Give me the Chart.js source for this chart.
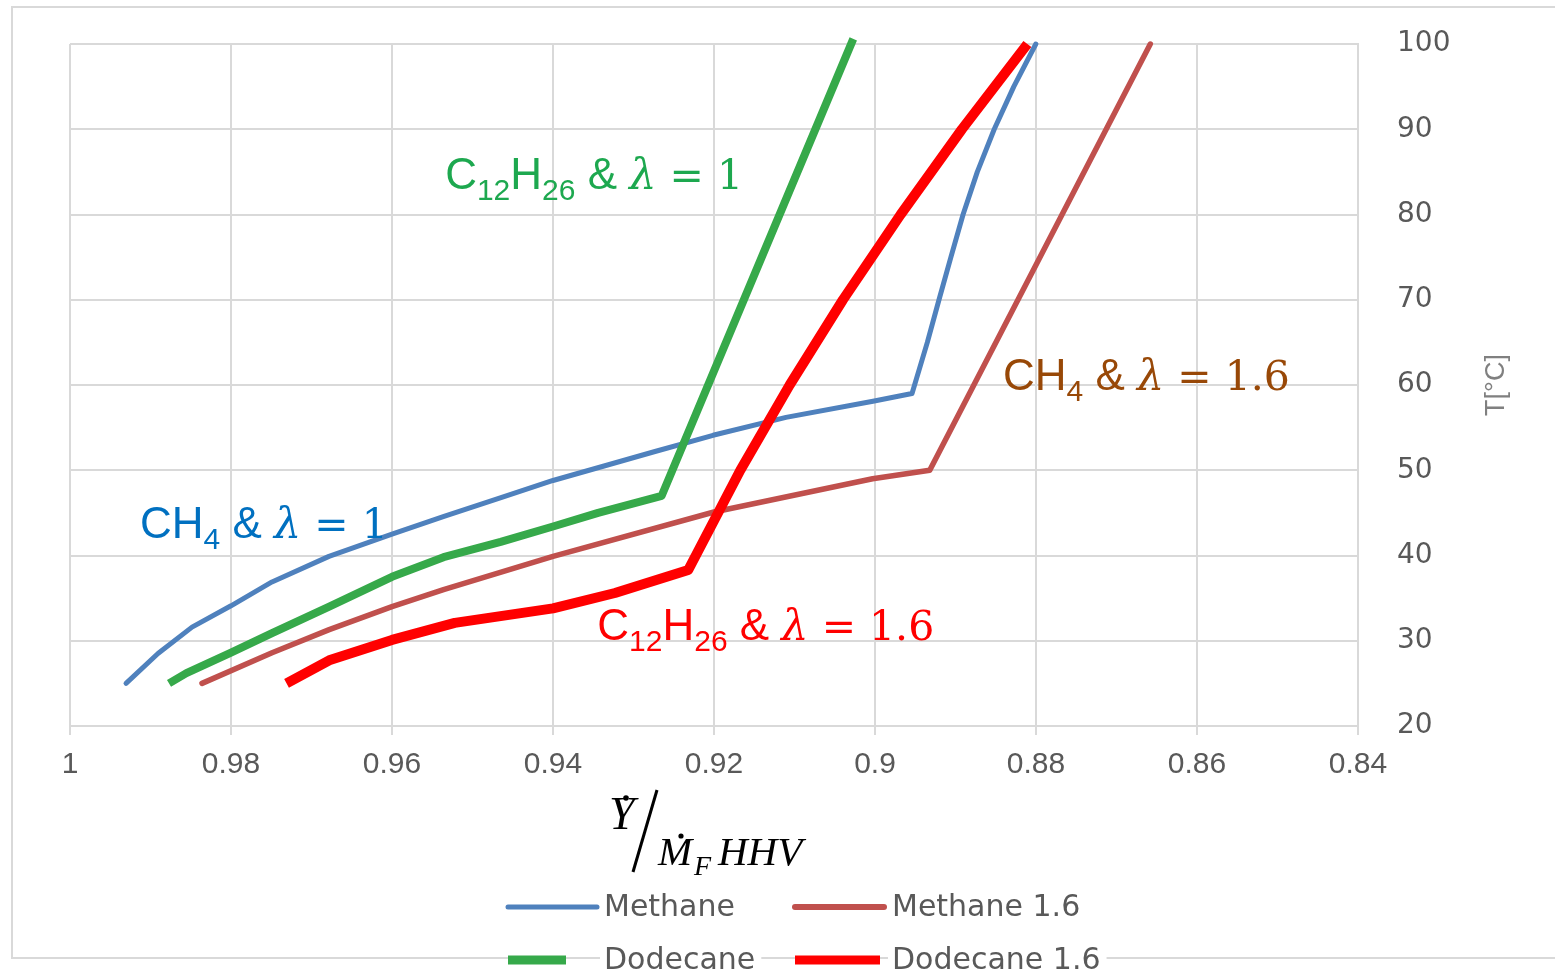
<!DOCTYPE html>
<html><head><meta charset="utf-8">
<script src="https://cdn.jsdelivr.net/npm/chart.js@4/dist/chart.umd.min.js"></script>
<style>html,body{margin:0;padding:0;background:#fff}canvas{display:block}</style>
</head><body>
<canvas id="c" width="1555" height="975"></canvas>
<script>
// ---------- data ----------
const xTicks = [1, 0.98, 0.96, 0.94, 0.92, 0.9, 0.88, 0.86, 0.84];
const yTicks = [20, 30, 40, 50, 60, 70, 80, 90, 100];
const seriesNames = ['Methane', 'Methane 1.6', 'Dodecane', 'Dodecane 1.6'];

const methaneX = [0.99304, 0.98907, 0.98484, 0.98, 0.97491, 0.96783, 0.96, 0.95354, 0.94646, 0.94, 0.93366, 0.92733, 0.92012, 0.91106, 0.90025, 0.8954, 0.8935, 0.89205, 0.89057, 0.88906, 0.88729, 0.88519, 0.88276, 0.88002];
const methaneT = [25, 28.5, 31.6, 34.1, 36.9, 39.9, 42.5, 44.6, 46.8, 48.8, 50.5, 52.2, 54.1, 56.2, 58.1, 59.0, 65, 70, 75, 80, 85, 90, 95, 100];

const methane16X = [0.9836, 0.9749, 0.9678, 0.96, 0.9536, 0.94, 0.92, 0.9003, 0.8932, 0.8658];
const methane16T = [25, 28.6, 31.3, 34, 36, 39.9, 45.1, 49.0, 50, 100];

const dodecaneX = [0.9877, 0.98554, 0.98, 0.9749, 0.9678, 0.96, 0.9536, 0.9465, 0.94, 0.9344, 0.9265, 0.9027];
const dodecaneT = [25, 26.2, 28.6, 30.9, 34.0, 37.5, 39.8, 41.6, 43.4, 45.0, 47.0, 100.6];

const dodecane16X = [0.9731, 0.9678, 0.96, 0.9522, 0.94, 0.9323, 0.9232, 0.91673, 0.9106, 0.90398, 0.89681, 0.8892, 0.88107];
const dodecane16T = [25, 27.7, 30.1, 32.1, 33.8, 35.6, 38.3, 50, 60, 70, 80, 90, 100];

// in-plot labels, anchored at data coordinates (left edge, baseline)
const labelAnchorsX = [0.9534, 0.9913, 0.8841, 0.9345];
const labelAnchorsT = [83.0, 42.0, 59.4, 30.1];
const labelColors = ['#1DA84F', '#0070C0', '#984807', '#FF0000'];
const labelParts = [
  [['C','m'],['12','s'],['H','m'],['26','s'],[' & ','m'],['λ','l'],[' = 1','e']],
  [['CH','m'],['4','s'],[' & ','m'],['λ','l'],[' = 1','e']],
  [['CH','m'],['4','s'],[' & ','m'],['λ','l'],[' = 1.6','e']],
  [['C','m'],['12','s'],['H','m'],['26','s'],[' & ','m'],['λ','l'],[' = 1.6','e']]
];

// ---------- styles ----------
const colors = ['#4F81BD', '#C0504D', '#36A94A', '#FF0000'];
const widths = [5, 5.5, 8, 10];
const caps = ['round', 'round', 'butt', 'butt'];
const GRID = '#D9D9D9';
const TXT = '#595959';

const mk = (xs, ts) => xs.map((x, i) => ({x: x, y: ts[i]}));
const seriesData = [mk(methaneX, methaneT), mk(methane16X, methane16T), mk(dodecaneX, dodecaneT), mk(dodecane16X, dodecane16T)];
const drawOrder = [4, 3, 2, 1];

const datasets = seriesNames.map((n, i) => ({
  label: n,
  data: seriesData[i],
  borderColor: colors[i],
  backgroundColor: colors[i],
  borderWidth: widths[i],
  borderCapStyle: caps[i],
  borderJoinStyle: 'round',
  pointRadius: 0,
  tension: 0,
  fill: false,
  clip: false,
  order: drawOrder[i]
}));

const fonts = {
  m: '44px "Liberation Sans", Arial, sans-serif',
  s: '30px "Liberation Sans", Arial, sans-serif',
  l: 'italic 43px "DejaVu Serif", serif',
  e: '41px "DejaVu Serif", serif'
};

const framePlugin = {
  id: 'frame',
  beforeDraw(chart) {
    const c = chart.ctx;
    c.save();
    c.fillStyle = '#fff';
    c.fillRect(0, 0, chart.width, chart.height);
    c.strokeStyle = GRID;
    c.lineWidth = 2;
    c.beginPath();
    c.moveTo(1560, 7); c.lineTo(12, 7); c.lineTo(12, 958); c.lineTo(1560, 958);
    c.stroke();
    c.restore();
  }
};

const labelPlugin = {
  id: 'plotLabels',
  afterDatasetsDraw(chart) {
    const c = chart.ctx, xs = chart.scales.x, ys = chart.scales.y;
    c.save();
    c.textBaseline = 'alphabetic';
    c.textAlign = 'left';
    labelParts.forEach((parts, k) => {
      let px = xs.getPixelForValue(labelAnchorsX[k]);
      const py = ys.getPixelForValue(labelAnchorsT[k]);
      c.fillStyle = labelColors[k];
      parts.forEach(([t, f]) => {
        c.font = fonts[f];
        c.fillText(t, px, f === 's' ? py + 11 : py);
        px += c.measureText(t).width;
      });
    });
    c.restore();
  }
};

const axisTextPlugin = {
  id: 'axisText',
  afterDraw(chart) {
    const c = chart.ctx, a = chart.chartArea;
    const cx = (a.left + a.right) / 2;
    const by = a.bottom;
    c.save();
    c.fillStyle = '#000';
    c.strokeStyle = '#000';
    c.textAlign = 'left';
    c.textBaseline = 'alphabetic';
    // x-axis title: Y-dot / (M-dot_F HHV)
    c.font = 'italic 46px "Liberation Serif", "Times New Roman", serif';
    c.fillText('Y', cx - 105, by + 103);
    c.beginPath(); c.arc(cx - 88, by + 72, 2.8, 0, Math.PI * 2); c.fill();
    c.lineWidth = 3;
    c.beginPath(); c.moveTo(cx - 81, by + 146); c.lineTo(cx - 57, by + 64); c.stroke();
    c.font = 'italic 41px "Liberation Serif", "Times New Roman", serif';
    c.fillText('M', cx - 56, by + 139);
    c.beginPath(); c.arc(cx - 33, by + 110, 2.6, 0, Math.PI * 2); c.fill();
    c.font = 'italic 28px "Liberation Serif", "Times New Roman", serif';
    c.fillText('F', cx - 20, by + 149);
    c.font = 'italic 41px "Liberation Serif", "Times New Roman", serif';
    c.fillText('HHV', cx + 4, by + 139);

    // y-axis title, rotated
    c.save();
    c.translate(1497, 385);
    c.rotate(-Math.PI / 2);
    c.textAlign = 'center';
    c.textBaseline = 'middle';
    c.fillStyle = '#808080';
    c.font = '27px "Liberation Sans", Arial, sans-serif';
    c.fillText('T[°C]', 0, 0);
    c.restore();

    // legend (2 x 2)
    const rowsY = [907, 960];
    const markX = [508, 795];
    const markLen = [[89, 89], [58, 85]];
    const textX = [604, 892];
    const legendWidths = [[5, 6], [9, 9]];
    c.font = '30px "DejaVu Sans", Verdana, sans-serif';
    c.textBaseline = 'middle';
    for (let r = 0; r < 2; r++) {
      for (let col = 0; col < 2; col++) {
        const i = r * 2 + col;
        const name = chart.data.datasets[i].label;
        const w = c.measureText(name).width;
        c.fillStyle = '#fff';
        c.fillRect(textX[col] - 4, rowsY[r] - 17, w + 10, 34);
        c.strokeStyle = chart.data.datasets[i].borderColor;
        c.lineWidth = legendWidths[r][col];
        c.lineCap = r === 0 ? 'round' : 'butt';
        c.beginPath();
        c.moveTo(markX[col], rowsY[r]);
        c.lineTo(markX[col] + markLen[r][col], rowsY[r]);
        c.stroke();
        c.fillStyle = TXT;
        c.fillText(name, textX[col], rowsY[r] + 1);
      }
    }
    c.restore();
  }
};

new Chart(document.getElementById('c'), {
  type: 'line',
  data: {datasets: datasets},
  options: {
    responsive: false,
    animation: false,
    devicePixelRatio: 1,
    layout: {padding: {left: 70, top: 44, right: 50, bottom: 189}},
    plugins: {legend: {display: false}, tooltip: {enabled: false}},
    elements: {point: {radius: 0}},
    scales: {
      x: {
        type: 'linear', reverse: true, min: 0.84, max: 1, position: 'bottom',
        afterBuildTicks: s => { s.ticks = xTicks.map(v => ({value: v})); },
        afterFit: s => { s.height = 60; },
        grid: {color: GRID, lineWidth: 2, tickLength: 9, drawTicks: true},
        border: {color: GRID, width: 2},
        ticks: {
          color: TXT, padding: 12, maxRotation: 0, autoSkip: false,
          font: {family: '"Liberation Sans", Arial, sans-serif', size: 30},
          callback: v => String(+Number(v).toFixed(2))
        }
      },
      y: {
        type: 'linear', position: 'right', min: 20, max: 100,
        afterBuildTicks: s => { s.ticks = yTicks.map(v => ({value: v})); },
        afterFit: s => { s.width = 147; },
        grid: {color: GRID, lineWidth: 2, drawTicks: true, tickLength: 36, tickColor: 'rgba(0,0,0,0)'},
        border: {color: GRID, width: 2},
        ticks: {
          color: TXT, padding: 3, autoSkip: false,
          font: {family: '"DejaVu Sans", Verdana, sans-serif', size: 28}
        }
      }
    }
  },
  plugins: [framePlugin, labelPlugin, axisTextPlugin]
});
</script>
</body></html>
